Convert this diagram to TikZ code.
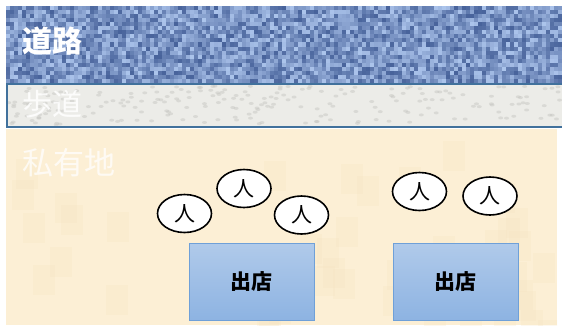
\documentclass[tikz,border=0pt]{standalone}
\usepackage{fontspec}
\newfontfamily\jp{Noto Sans CJK JP}
\usetikzlibrary{shapes.geometric}
\definecolor{roadlight}{HTML}{B4CCF2}
\definecolor{roaddark}{HTML}{24407E}
\definecolor{walkbase}{HTML}{ECECE8}
\definecolor{walkdark}{HTML}{C4C4BF}
\definecolor{walkline}{HTML}{41719C}
\definecolor{landbase}{HTML}{FCEFD5}
\definecolor{landspot}{HTML}{F6E4C0}
\definecolor{boxtop}{HTML}{B0CAEA}
\definecolor{boxbot}{HTML}{8DB3E2}
\definecolor{boxline}{HTML}{6FA0D8}
\tikzset{
  person/.style={ellipse, draw=black, line width=1.6pt, fill=white,
    minimum width=54pt, minimum height=38pt, inner sep=0pt,
    font=\jp\fontsize{21}{21}\selectfont},
  shop/.style={draw=boxline, line width=0.8pt, top color=boxtop, bottom color=boxbot,
    minimum width=125pt, minimum height=77pt, inner sep=0pt, anchor=north west,
    font=\jp\bfseries\fontsize{21}{21}\selectfont},
  bandlabel/.style={anchor=west, text=white, inner sep=0pt,
    font=\jp\bfseries\fontsize{30}{30}\selectfont}
}
\begin{document}
\begin{tikzpicture}[x=1pt,y=-1pt]
\useasboundingbox (0,0) rectangle (562,325);
\fill[white] (0,0) rectangle (562,325);
% private land (mottled)
\fill[landbase] (6,129) rectangle (557,325);
\pgfmathsetseed{3}
\begin{scope}
\clip (6,129) rectangle (557,325);
\foreach \k in {1,...,45}{
  \pgfmathsetmacro{\xx}{6+rnd*550}
  \pgfmathsetmacro{\yy}{129+rnd*196}
  \fill[landspot,opacity=0.25] (\xx,\yy) rectangle ++(22,30);
}
\end{scope}
% road (woven texture)
\fill[roadlight!55!roaddark] (6,6) rectangle (562,83);
\pgfmathsetseed{7}
\foreach \i in {0,...,138}{
  \pgfmathsetmacro{\xx}{6+\i*4}
  \foreach \j in {0,...,18}{
    \pgfmathsetmacro{\yy}{6+\j*4.05}
    \pgfmathtruncatemacro{\p}{25+rnd*70}
    \fill[roadlight!\p!roaddark] (\xx,\yy) rectangle ++(4.05,4.1);
  }
}
% sidewalk
\fill[walkbase] (6,84) rectangle (562,127);
\foreach \k in {1,...,220}{
  \pgfmathsetmacro{\xx}{6+rnd*554}
  \pgfmathsetmacro{\yy}{86+rnd*39}
  \fill[walkdark,opacity=0.45] (\xx,\yy) ellipse (2.5pt and 1.5pt);
}
\draw[walkline, line width=1.6pt] (570,84) -- (6.8,84) -- (6.8,127) -- (570,127);
% labels
\node[bandlabel] (road) at (22,41) {道路};
\node[bandlabel, opacity=0.85, font=\jp\fontsize{30}{30}\selectfont] (walk) at (22,104) {歩道};
\node[bandlabel, opacity=0.75, font=\jp\fontsize{31}{31}\selectfont] (land) at (22,163) {私有地};
% shops
\node[shop] (shop1) at (189,243) {出店};
\node[shop] (shop2) at (393,243) {出店};
% people
\node[person] (p1) at (184.5,213.5) {人};
\node[person] (p2) at (244,188.5) {人};
\node[person] (p3) at (301.5,215) {人};
\node[person] (p4) at (419.5,191.5) {人};
\node[person] (p5) at (490,196) {人};
\end{tikzpicture}
\end{document}
